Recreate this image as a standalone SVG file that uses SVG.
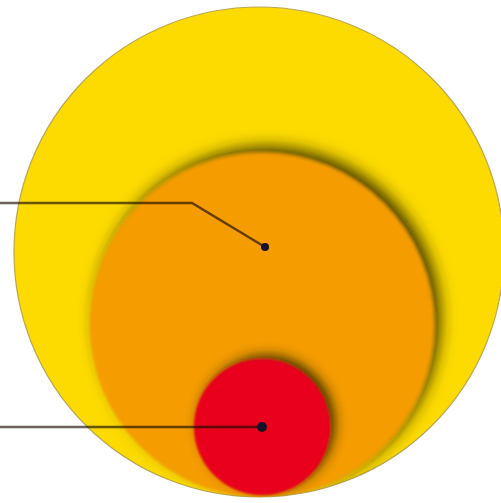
<svg xmlns="http://www.w3.org/2000/svg" width="501" height="503" viewBox="0 0 501 503">
  <defs>
    <filter id="shadow" x="-30%" y="-30%" width="160%" height="160%">
      <feGaussianBlur in="SourceGraphic" stdDeviation="1.5" result="soft"/>
      <feGaussianBlur in="SourceAlpha" stdDeviation="8" result="b"/>
      <feOffset in="b" dx="6" dy="-6" result="o"/>
      <feFlood flood-color="#2a2400" flood-opacity="0.9"/>
      <feComposite in2="o" operator="in" result="sh"/>
      <feMerge>
        <feMergeNode in="sh"/>
        <feMergeNode in="soft"/>
      </feMerge>
    </filter>
    <filter id="shadowSmall" x="-40%" y="-40%" width="180%" height="180%">
      <feGaussianBlur in="SourceGraphic" stdDeviation="1" result="soft"/>
      <feGaussianBlur in="SourceAlpha" stdDeviation="6" result="b"/>
      <feOffset in="b" dx="5" dy="-4" result="o"/>
      <feFlood flood-color="#2a2400" flood-opacity="0.85"/>
      <feComposite in2="o" operator="in" result="sh"/>
      <feMerge>
        <feMergeNode in="sh"/>
        <feMergeNode in="soft"/>
      </feMerge>
    </filter>
    <clipPath id="outerClip">
      <circle cx="259" cy="252" r="245"/>
    </clipPath>
  </defs>
  <style>
    .leader { fill: none; stroke: #1a0a00; stroke-opacity: 0.65; stroke-width: 2.5; }
    .dot { fill: #141428; }
  </style>
  <rect width="501" height="503" fill="#ffffff"/>
  <g id="outer">
    <circle cx="259" cy="252" r="245" fill="#FDDB00" stroke="#b9a650" stroke-width="1.2"/>
  </g>
  <g clip-path="url(#outerClip)">
    <g id="middle" filter="url(#shadow)">
      <circle cx="262" cy="325" r="172" fill="#F49C00"/>
    </g>
    <g id="inner" filter="url(#shadowSmall)">
      <circle cx="262" cy="427" r="68" fill="#E8001C"/>
    </g>
  </g>
  <g id="connectors">
    <polyline class="leader" points="0,203 192,203 265,247"/>
    <line class="leader" x1="0" y1="427" x2="262" y2="427" stroke-width="3.2"/>
    <circle class="dot" cx="265" cy="247" r="4"/>
    <circle class="dot" cx="262" cy="427" r="5" fill="#1a2418"/>
  </g>
</svg>
